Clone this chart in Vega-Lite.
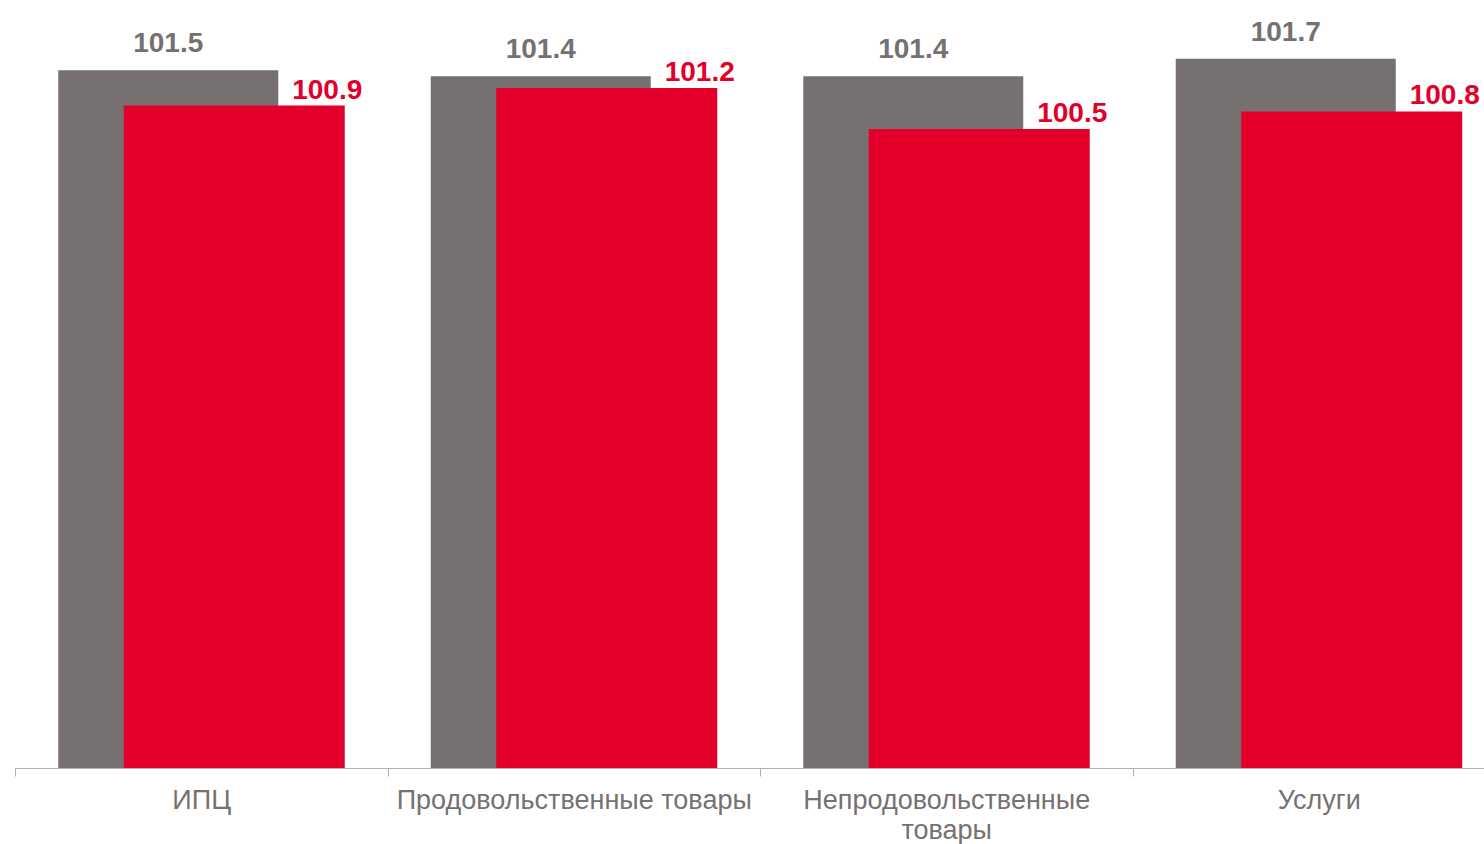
{
  "$schema": "https://vega.github.io/schema/vega-lite/v6.json",
  "width": 1469,
  "height": 768,
  "autosize": {"type": "none"},
  "padding": {"left": 15, "top": 0, "right": 0, "bottom": 76},
  "background": "white",
  "config": {"view": {"stroke": null}, "font": "Liberation Sans"},
  "data": {
    "values": [
      {"category": "ИПЦ", "series": "prev", "value": 101.5},
      {"category": "Продовольственные товары", "series": "prev", "value": 101.4},
      {"category": "Непродовольственные товары", "series": "prev", "value": 101.4},
      {"category": "Услуги", "series": "prev", "value": 101.7},
      {"category": "ИПЦ", "series": "curr", "value": 100.9},
      {"category": "Продовольственные товары", "series": "curr", "value": 101.2},
      {"category": "Непродовольственные товары", "series": "curr", "value": 100.5},
      {"category": "Услуги", "series": "curr", "value": 100.8}
    ]
  },
  "encoding": {
    "x": {
      "field": "category",
      "type": "nominal",
      "sort": null,
      "scale": {"range": [0, 1490], "paddingInner": 0, "paddingOuter": 0},
      "axis": {
        "title": null,
        "labelAngle": 0,
        "labelFont": "Liberation Sans",
        "labelFontSize": 27,
        "labelColor": "#767171",
        "labelPadding": 11,
        "labelLineHeight": 30,
        "labelLimit": 0,
        "labelExpr": "datum.label == 'Непродовольственные товары' ? ['Непродовольственные', 'товары'] : datum.label",
        "tickBand": "extent",
        "tickSize": 8,
        "tickColor": "#b0b0b0",
        "domainColor": "#b0b0b0",
        "zindex": 1
      }
    },
    "y": {
      "field": "value",
      "type": "quantitative",
      "scale": {"domain": [89.6, 102.7], "zero": false, "nice": false},
      "axis": null
    }
  },
  "layer": [
    {
      "transform": [{"filter": "datum.series == 'prev'"}],
      "mark": {"type": "bar", "color": "#767170", "width": 220, "xOffset": -33},
      "encoding": {"y2": {"datum": 89.6}}
    },
    {
      "transform": [{"filter": "datum.series == 'prev'"}],
      "mark": {"type": "text", "color": "#767171", "font": "Liberation Sans", "fontSize": 28, "fontWeight": "bold", "baseline": "alphabetic", "align": "center", "xOffset": -33, "dy": -18},
      "encoding": {"text": {"field": "value", "type": "quantitative", "format": ".1f"}}
    },
    {
      "transform": [{"filter": "datum.series == 'curr'"}],
      "mark": {"type": "bar", "color": "#e2002a", "width": 221, "xOffset": 33},
      "encoding": {"y2": {"datum": 89.6}}
    },
    {
      "transform": [{"filter": "datum.series == 'curr'"}],
      "mark": {"type": "text", "color": "#e2002a", "font": "Liberation Sans", "fontSize": 28, "fontWeight": "bold", "baseline": "alphabetic", "align": "center", "xOffset": 126, "dy": -7},
      "encoding": {"text": {"field": "value", "type": "quantitative", "format": ".1f"}}
    }
  ]
}
